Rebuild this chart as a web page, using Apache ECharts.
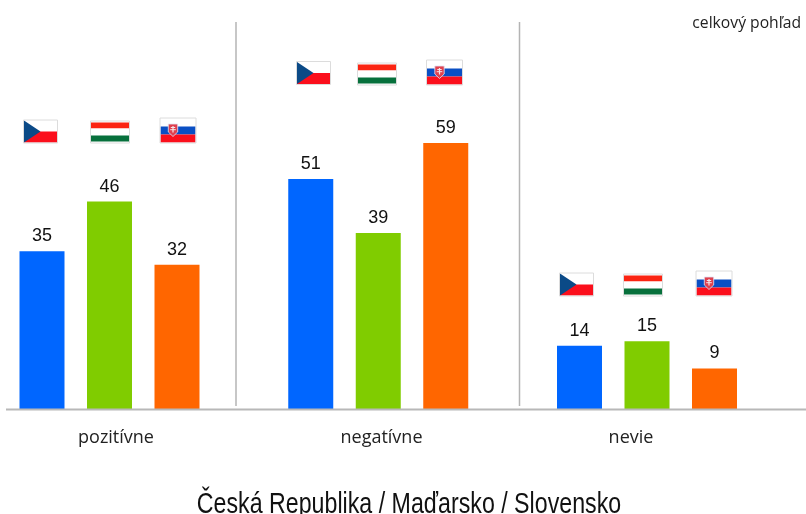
<!DOCTYPE html>
<html><head><meta charset="utf-8">
<style>html,body{margin:0;padding:0;background:#fff}#c{width:806px;height:514px}</style>
<script src="https://cdn.jsdelivr.net/npm/echarts@6/dist/echarts.min.js"></script>
</head><body><div id="c"></div>
<script>
const categories = ['pozitívne', 'negatívne', 'nevie'];
const seriesNames = ['Česká Republika', 'Maďarsko', 'Slovensko'];
const czechValues = [35, 51, 14];
const hungaryValues = [46, 39, 15];
const slovakiaValues = [32, 59, 9];
const titleText = 'Česká Republika / Maďarsko / Slovensko';
const noteText = 'celkový pohľad';

const chart = echarts.init(document.getElementById('c'), null, {renderer: 'canvas'});

function frame(x, y, w, h) {
  return {type: 'rect', shape: {x: x - 0.5, y: y - 0.5, width: w + 1, height: h + 1}, style: {fill: 'none', stroke: '#dcdcdc', lineWidth: 1}, z: 20};
}
function rect(x, y, w, h, fill) {
  return {type: 'rect', shape: {x, y, width: w, height: h}, style: {fill}, z: 10};
}
function czFlag(x, y) {
  const w = 33, h = 22;
  return [
    rect(x, y, w, h / 2, '#ffffff'),
    rect(x, y + h / 2, w, h / 2, '#fb0f1c'),
    {type: 'polygon', shape: {points: [[x, y], [x + w / 2, y + h / 2], [x, y + h]]}, style: {fill: '#0b4a87'}, z: 11},
    frame(x, y, w, h)
  ];
}
function huFlag(x, y) {
  const w = 38, h = 21;
  return [
    rect(x, y + 1, w, 6, '#fb2412'),
    rect(x, y + 7, w, 7, '#ffffff'),
    rect(x, y + 14, w, 6, '#07703c'),
    frame(x, y, w, h)
  ];
}
function skFlag(x, y) {
  const w = 35, h = 24;
  const cx = x + 12.5, ty = y + 5.5;
  return [
    rect(x, y, w, 8, '#ffffff'),
    rect(x, y + 8, w, 8, '#0a4fc4'),
    rect(x, y + 16, w, 8, '#fb0f1c'),
    {type: 'polygon', shape: {points: [[cx - 4.7, ty], [cx + 4.7, ty], [cx + 4.7, ty + 8], [cx, ty + 12.5], [cx - 4.7, ty + 8]]}, style: {fill: '#e0404e', stroke: '#dfe6f8', lineWidth: 0.8}, z: 11},
    {type: 'rect', shape: {x: cx - 0.6, y: ty + 2, width: 1.2, height: 6.5}, style: {fill: '#f6e6e8'}, z: 12},
    {type: 'rect', shape: {x: cx - 2.2, y: ty + 3, width: 4.4, height: 1}, style: {fill: '#f6e6e8'}, z: 12},
    {type: 'rect', shape: {x: cx - 2.8, y: ty + 5.2, width: 5.6, height: 1}, style: {fill: '#f6e6e8'}, z: 12},
    frame(x, y, w, h)
  ];
}
const flagLayout = [
  {cz: [24, 120.5], hu: [91, 121.5], sk: [160.5, 118.5]},
  {cz: [297, 62], hu: [358, 63.5], sk: [427, 60.5]},
  {cz: [560, 273.5], hu: [624, 274.5], sk: [696.5, 271.5]}
];
const flags = flagLayout.flatMap(f => [...czFlag(...f.cz), ...huFlag(...f.hu), ...skFlag(...f.sk)]);

const catLabelX = [116, 381.5, 631];
const graphics = [
  {type: 'line', shape: {x1: 6, y1: 409.5, x2: 806, y2: 409.5}, style: {stroke: '#b8b8b8', lineWidth: 2}, z: 30},
  {type: 'line', shape: {x1: 236, y1: 22, x2: 236, y2: 406}, style: {stroke: '#b4b4b4', lineWidth: 1.5}},
  {type: 'line', shape: {x1: 519.5, y1: 22, x2: 519.5, y2: 406}, style: {stroke: '#b4b4b4', lineWidth: 1.5}},
  ...categories.map((c, i) => ({type: 'text', style: {text: c, x: catLabelX[i], y: 438, align: 'center', verticalAlign: 'middle', fill: '#222', font: '18px "Open Sans"'}})),
  {type: 'text', style: {text: noteText, x: 801, y: 24, align: 'right', verticalAlign: 'middle', fill: '#222', font: '15.7px "Open Sans"'}},
  {type: 'text', style: {text: titleText, x: 0, y: 0, align: 'center', verticalAlign: 'middle', fill: '#111', font: '29px "Liberation Sans"'}, x: 409, y: 505, scaleX: 0.8},
  ...flags
];

const label = {show: true, position: 'top', distance: 6, fontFamily: '"Liberation Sans"', fontSize: 18, color: '#111'};
function barSeries(name, data, color) {
  return {name, type: 'bar', data, barWidth: 45, barGap: '50%', label, itemStyle: {color}, silent: true, clip: false, animation: false};
}
chart.setOption({
  animation: false,
  backgroundColor: '#fff',
  grid: {left: 109.5, top: 3.1, width: 537.5, height: 405.9, containLabel: false},
  xAxis: {type: 'category', boundaryGap: false, containShape: false, data: categories, axisLine: {show: false}, axisTick: {show: false}, axisLabel: {show: false}},
  yAxis: {type: 'value', min: 0, max: 90, show: false},
  series: [
    barSeries(seriesNames[0], czechValues, '#0066ff'),
    barSeries(seriesNames[1], hungaryValues, '#80cc00'),
    barSeries(seriesNames[2], slovakiaValues, '#ff6600')
  ],
  graphic: graphics
});
</script></body></html>
